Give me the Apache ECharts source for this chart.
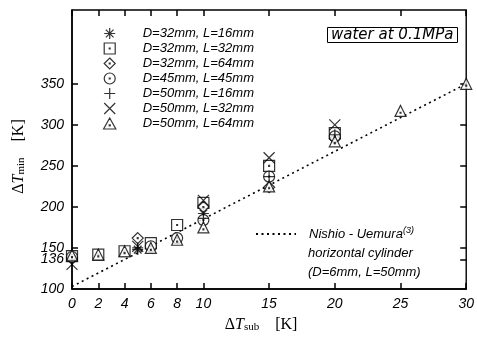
<!DOCTYPE html>
<html>
<head>
<meta charset="utf-8">
<script src="https://cdn.jsdelivr.net/npm/echarts@6/dist/echarts.min.js"></script>
<style>
  html, body { margin: 0; padding: 0; background: #fff; }
  #chart { width: 477px; height: 338px; }
</style>
</head>
<body>
<div id="chart"></div>
<script>
// data: [dTsub, dTmin]
const d32L16 = [[0, 142], [5, 148], [10, 192]];
const d32L32 = [[0, 140], [2, 142], [4, 146], [6, 156], [8, 178], [10, 205], [15, 250], [20, 290]];
const d32L64 = [[0, 138], [5, 162], [10, 200], [15, 224], [20, 283]];
const d45L45 = [[0, 139], [6, 152], [8, 162], [10, 184], [15, 237], [20, 286]];
const d50L16 = [[0, 136], [5, 150], [10, 186], [15, 237], [20, 288]];
const d50L32 = [[0, 130], [5, 152], [10, 208], [15, 260], [20, 300]];
const d50L64 = [[0, 141], [2, 142], [4, 146], [6, 150], [8, 160], [10, 175], [15, 225], [20, 280], [25, 317], [30, 350]];
const nishioLine = [[0, 103], [30, 350]];

const xTicks = [0, 2, 4, 6, 8, 10, 15, 20, 25, 30];
const yTicks = [100, 136, 150, 200, 250, 300, 350];
const tickLen = 6;
// one slot per kelvin 0..30, used only to place the x ticks
const xSlots = Array.from({ length: 31 }, (_, i) => String(i));

const dot = ' M4.6,4.6L5.4,4.6L5.4,5.4L4.6,5.4Z';
const symbols = {
  star: 'path://M5,0L5,10M0,5L10,5M1.5,1.5L8.5,8.5M8.5,1.5L1.5,8.5',
  rect: 'path://M0,0L10,0L10,10L0,10Z' + dot,
  diamond: 'path://M5,0L10,5L5,10L0,5Z' + dot,
  circle: 'path://M0,5A5,5,0,1,1,10,5A5,5,0,1,1,0,5Z' + dot,
  plus: 'path://M5,0L5,10M0,5L10,5',
  cross: 'path://M0,0L10,10M10,0L0,10',
  triangle: 'path://M5,0L10,9L0,9Z M4.6,5.6L5.4,5.6L5.4,6.4L4.6,6.4Z'
};

const labelFont = { fontFamily: 'Liberation Sans', fontStyle: 'italic', fontSize: 14, color: '#000' };
const nameRich = {
  d: { fontFamily: 'Liberation Serif', fontSize: 16, color: '#000' },
  i: { fontFamily: 'Liberation Serif', fontStyle: 'italic', fontSize: 16, color: '#000' },
  s: { fontFamily: 'Liberation Serif', fontSize: 11, color: '#000', verticalAlign: 'bottom', padding: [6, 0, 0, 0] }
};

function scatter(name, data, symbol) {
  return {
    name: name,
    type: 'scatter',
    data: data,
    symbol: symbol,
    symbolSize: 11,
    clip: false,
    itemStyle: { color: '#fff', borderColor: '#000', borderWidth: 1.2 }
  };
}

// tick-only y axes pulled into the plot, so the normal outward ticks end on the frame
function yTickAxis(pos) {
  return {
    type: 'value', min: 100, max: 440, position: pos, offset: -tickLen,
    axisLine: { show: false, onZero: false },
    axisTick: { inside: false, length: tickLen, customValues: yTicks.slice(1), lineStyle: { color: '#000', width: 1.5 } },
    axisLabel: { show: false },
    splitLine: { show: false }
  };
}

// x ticks: category slots 0..30 with only the labelled ones ticked
function xTickAxis(pos) {
  return {
    type: 'category', data: xSlots, boundaryGap: false, position: pos, offset: -tickLen,
    axisLine: { show: false, onZero: false },
    axisTick: {
      show: true, inside: false, length: tickLen,
      interval: (idx, val) => xTicks.indexOf(Number(val)) >= 0,
      lineStyle: { color: '#000', width: 1.5 }
    },
    axisLabel: { show: false },
    splitLine: { show: false }
  };
}

const chart = echarts.init(document.getElementById('chart'));
const option = {
  animation: false,
  backgroundColor: '#fff',
  title: {
    text: 'water at 0.1MPa',
    left: 327, top: 28,
    padding: [0, 4],
    borderColor: '#000', borderWidth: 1,
    textStyle: { fontFamily: 'DejaVu Sans', fontStyle: 'italic', fontWeight: 'normal', fontSize: 15, lineHeight: 14, color: '#000' }
  },
  grid: { left: 72, right: 10, top: 10, bottom: 49, show: true, borderColor: '#000', borderWidth: 1.4 },
  legend: [
    {
      data: ['D=32mm, L=16mm', 'D=32mm, L=32mm', 'D=32mm, L=64mm', 'D=45mm, L=45mm',
             'D=50mm, L=16mm', 'D=50mm, L=32mm', 'D=50mm, L=64mm'],
      orient: 'vertical',
      left: 98, top: 22,
      itemWidth: 14, itemHeight: 11, itemGap: 2,
      itemStyle: { borderWidth: 1.2 },
      textStyle: { fontFamily: 'Liberation Sans', fontStyle: 'italic', fontSize: 13, color: '#000', padding: [0, 0, 0, 21] }
    },
    {
      data: ['Nishio - Uemura'],
      left: 250, top: 221,
      itemWidth: 40, itemHeight: 12,
      itemStyle: { color: 'rgba(0,0,0,0)', borderColor: 'rgba(0,0,0,0)', borderWidth: 0 },
      formatter: name => name + '{sup|(3)}',
      textStyle: {
        fontFamily: 'Liberation Sans', fontStyle: 'italic', fontSize: 13, color: '#000', padding: [0, 0, 0, 8],
        rich: { sup: { fontFamily: 'Liberation Sans', fontStyle: 'italic', fontSize: 9, color: '#000', padding: [0, 0, 7, 0] } }
      }
    }
  ],
  graphic: [{
    type: 'text',
    left: 308, top: 244,
    style: {
      text: 'horizontal cylinder\n(D=6mm, L=50mm)',
      font: 'italic 13px "Liberation Sans"',
      lineHeight: 19,
      fill: '#000'
    }
  }],
  xAxis: [
    {
      type: 'value', min: 0, max: 30,
      name: '{d|Δ}{i|T}{s|sub}{d|    [K]}',
      nameLocation: 'middle', nameGap: 27,
      nameTextStyle: { rich: nameRich, padding: [0, 16, 0, 0] },
      axisLine: { onZero: false, lineStyle: { color: '#000', width: 1.5 } },
      axisTick: { show: false },
      axisLabel: Object.assign({ customValues: xTicks, margin: 8 }, labelFont),
      splitLine: { show: false }
    },
    xTickAxis('bottom'),
    xTickAxis('top')
  ],
  yAxis: [
    {
      type: 'value', min: 100, max: 440,
      name: '{d|Δ}{i|T}{s|min}{d|    [K]}',
      nameLocation: 'middle', nameGap: 45, nameRotate: 90,
      nameTextStyle: { rich: nameRich, padding: [0, 14, 0, 0] },
      axisLine: { onZero: false, lineStyle: { color: '#000', width: 1.5 } },
      axisTick: { show: false },
      axisLabel: Object.assign({ customValues: yTicks, margin: 8 }, labelFont),
      splitLine: { show: false }
    },
    yTickAxis('left'),
    yTickAxis('right')
  ],
  series: [
    scatter('D=32mm, L=16mm', d32L16, symbols.star),
    scatter('D=32mm, L=32mm', d32L32, symbols.rect),
    scatter('D=32mm, L=64mm', d32L64, symbols.diamond),
    scatter('D=45mm, L=45mm', d45L45, symbols.circle),
    scatter('D=50mm, L=16mm', d50L16, symbols.plus),
    scatter('D=50mm, L=32mm', d50L32, symbols.cross),
    scatter('D=50mm, L=64mm', d50L64, symbols.triangle),
    {
      name: 'Nishio - Uemura',
      type: 'line',
      data: nishioLine,
      symbol: 'none',
      z: 1,
      lineStyle: { color: '#000', width: 1.6, type: [2, 3.5] },
      itemStyle: { color: '#000' }
    }
  ]
};
chart.setOption(option);
</script>
</body>
</html>
